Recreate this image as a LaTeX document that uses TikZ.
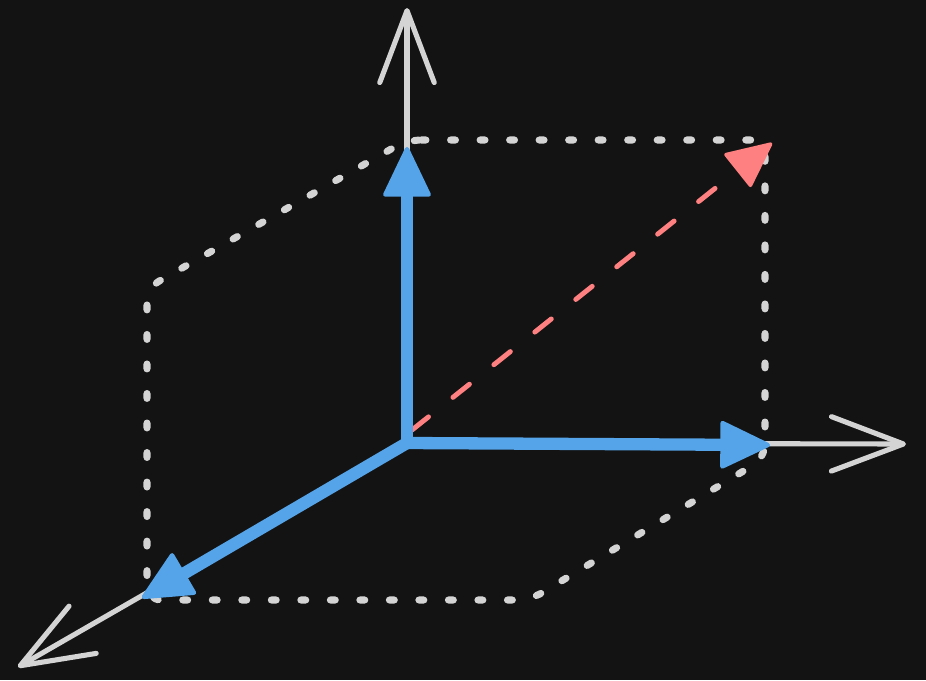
\documentclass[tikz,border=0pt]{standalone}
\usetikzlibrary{arrows.meta}
\definecolor{bgdark}{HTML}{131313}
\definecolor{axisgray}{HTML}{D4D4D4}
\definecolor{vecblue}{HTML}{55A3E8}
\definecolor{diagred}{HTML}{FF8080}
\begin{document}
\begin{tikzpicture}[x=0.02cm,y=-0.02cm,
  axisline/.style={axisgray,line width=2.9pt,line cap=round,
    -{Straight Barb[length=41pt,width=31pt,round]}},
  vecline/.style={vecblue,line width=7pt,
    -{Triangle[length=30pt,width=28pt,round,line width=2.5pt]}},
  diagline/.style={diagred,line width=2.8pt,line cap=round,
    dash pattern=on 12pt off 17.8pt,
    -{Triangle[length=27pt,width=25pt,round,line width=2pt]}},
  boxline/.style={axisgray,line width=4pt,line cap=round,
    dash pattern=on 2.8pt off 14pt,rounded corners=8pt}]

\fill[bgdark] (0,0) rectangle (926,680);
\useasboundingbox (0,0) rectangle (926,680);

\coordinate (O) at (407,443);
\coordinate (XAX) at (906,444);
\coordinate (YAX) at (407,8);
\coordinate (ZAX) at (18,667);
\coordinate (XV) at (770,445);
\coordinate (YV) at (407,147);
\coordinate (ZV) at (142,598);
\coordinate (DSTART) at (412,430);
\coordinate (DTIP) at (772,143);

\draw[axisline] (O) -- (XAX);
\draw[axisline] (O) -- (YAX);
\draw[axisline] (O) -- (ZAX);

\draw[boxline] (407,140) -- (765,140) -- (765,458) -- (530,600)
  -- (147,600) -- (147,288) -- cycle;

\draw[diagline] (DSTART) -- (DTIP);

\draw[vecline] (O) -- (XV);
\draw[vecline] (O) -- (YV);
\draw[vecline] (O) -- (ZV);

\end{tikzpicture}
\end{document}
